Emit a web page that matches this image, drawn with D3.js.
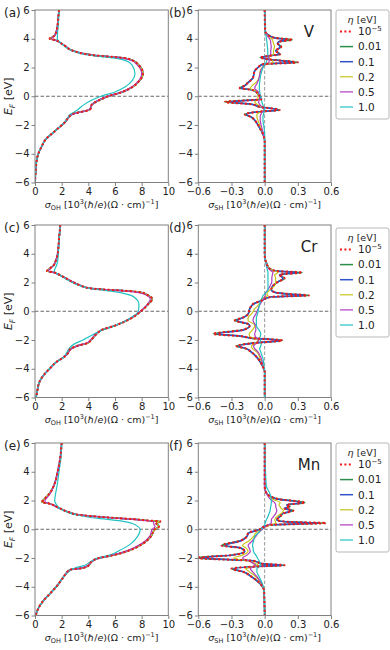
<!DOCTYPE html>
<html>
<head>
<meta charset="utf-8">
<script src="https://cdn.jsdelivr.net/npm/d3@7"></script>
<style>
  body { margin: 0; background: #fff; }
  svg { display: block; font-family: "DejaVu Sans", sans-serif; }
</style>
</head>
<body>
<div id="chart"></div>
<script>
// legend entries (eta in eV), drawn in this order in the legend
const etaLabels = ["1e-5", "0.01", "0.1", "0.2", "0.5", "1.0"];
const eTicks = [-6, -4, -2, 0, 2, 4, 6];
const ohTicks = [0, 2, 4, 6, 8, 10];
const shTicks = [-0.6, -0.3, 0, 0.3, 0.6];
const elements = ["V", "Cr", "Mn"];
const panelTags = [["(a)", "(b)"], ["(c)", "(d)"], ["(e)", "(f)"]];

// ---- V : orbital Hall (a) ----
const aE = [6, 5.5, 5, 4.5, 4.2, 4.0, 3.9, 3.78, 3.5, 3.2, 2.97, 2.85, 2.73, 2.65, 2.5, 2.15, 1.57, 1.1, 0.64, 0.3, 0, -0.3, -0.6, -0.9, -1.0, -1.1, -1.25, -1.5, -1.8, -2.1, -2.5, -3, -3.5, -4, -4.5, -5, -5.5, -6];
const aSharp = [1.8, 1.75, 1.7, 1.6, 1.45, 1.1, 1.55, 1.8, 2.25, 2.75, 3.6, 4.4, 5.9, 6.75, 7.3, 7.8, 8.1, 7.85, 7.3, 6.55, 5.5, 4.75, 4.25, 4.15, 3.9, 3.4, 2.8, 2.5, 2.25, 1.9, 1.4, 0.8, 0.5, 0.25, 0.12, 0.07, 0.03, 0];
const aPurple = [1.8, 1.75, 1.7, 1.6, 1.48, 1.22, 1.55, 1.8, 2.25, 2.75, 3.6, 4.35, 5.8, 6.6, 7.2, 7.7, 8.0, 7.8, 7.25, 6.5, 5.45, 4.7, 4.25, 4.1, 3.85, 3.4, 2.8, 2.5, 2.25, 1.9, 1.4, 0.8, 0.5, 0.25, 0.12, 0.07, 0.03, 0];
const aCyan = [1.8, 1.78, 1.75, 1.7, 1.68, 1.68, 1.72, 1.85, 2.2, 2.7, 3.45, 4.1, 5.2, 6.0, 6.75, 7.3, 7.5, 7.3, 6.75, 6.0, 4.95, 4.2, 3.65, 3.25, 3.1, 2.95, 2.65, 2.45, 2.2, 1.9, 1.4, 0.8, 0.5, 0.25, 0.12, 0.07, 0.03, 0];

// ---- V : spin Hall (b) ----
const bE = [6, 4.55, 4.2, 4.05, 3.93, 3.8, 3.67, 3.44, 3.16, 2.93, 2.8, 2.7, 2.55, 2.35, 2.23, 2.0, 1.77, 1.3, 0.95, 0.75, 0.56, 0.45, 0.37, 0.14, -0.2, -0.4, -0.56, -0.74, -0.95, -1.07, -1.26, -1.45, -1.67, -2.2, -2.65, -3.1, -6];
const bSharp = [0, 0.005, 0.045, 0.1, 0.25, 0.13, 0.12, 0.15, 0.1, 0.14, 0.03, -0.04, 0.05, 0.3, -0.02, -0.06, -0.09, -0.105, -0.15, -0.18, -0.225, -0.12, -0.09, -0.06, -0.03, -0.36, -0.12, -0.045, 0.135, -0.045, -0.18, -0.12, -0.09, -0.045, -0.015, 0, 0];
const bBlue = [0, 0.005, 0.045, 0.095, 0.2, 0.13, 0.115, 0.14, 0.1, 0.13, 0.035, -0.03, 0.05, 0.26, -0.01, -0.06, -0.09, -0.105, -0.15, -0.175, -0.21, -0.12, -0.09, -0.06, -0.035, -0.31, -0.12, -0.045, 0.12, -0.045, -0.165, -0.12, -0.09, -0.045, -0.015, 0, 0];
const bYellow = [0, 0.005, 0.03, 0.055, 0.07, 0.075, 0.08, 0.09, 0.08, 0.08, 0.05, 0.04, 0.06, 0.08, 0.02, -0.02, -0.04, -0.05, -0.08, -0.11, -0.13, -0.11, -0.08, -0.06, -0.06, -0.09, -0.07, -0.03, 0.0, -0.03, -0.07, -0.07, -0.06, -0.035, -0.01, 0, 0];
const bPurple = [0, 0.005, 0.025, 0.04, 0.05, 0.055, 0.055, 0.06, 0.055, 0.055, 0.04, 0.035, 0.04, 0.04, 0.01, -0.02, -0.035, -0.05, -0.065, -0.08, -0.09, -0.08, -0.065, -0.05, -0.045, -0.055, -0.045, -0.025, -0.005, -0.02, -0.035, -0.04, -0.04, -0.025, -0.01, 0, 0];
const bCyan = [0, 0.005, 0.012, 0.015, 0.018, 0.02, 0.022, 0.025, 0.028, 0.028, 0.025, 0.022, 0.02, 0.015, 0.0, -0.015, -0.025, -0.04, -0.045, -0.048, -0.048, -0.047, -0.046, -0.04, -0.03, -0.025, -0.018, -0.01, 0.0, -0.005, -0.01, -0.015, -0.015, -0.005, 0, 0, 0];

// ---- Cr : orbital Hall (c) ----
const cE = [6, 5, 4, 3.5, 3.2, 3.0, 2.8, 2.7, 2.5, 2.2, 2.0, 1.8, 1.6, 1.5, 1.4, 1.3, 1.1, 0.85, 0.5, 0, -0.5, -1.0, -1.3, -1.5, -1.8, -2.0, -2.2, -2.4, -2.6, -3.0, -3.3, -3.5, -4.0, -4.5, -5, -5.5, -6];
const cSharp = [1.9, 1.8, 1.7, 1.55, 1.4, 1.15, 0.9, 1.4, 1.9, 2.5, 2.9, 3.4, 4.1, 5.4, 7.1, 8.0, 8.5, 8.8, 8.5, 7.95, 7.2, 6.0, 5.0, 4.7, 4.4, 4.2, 4.0, 3.2, 2.7, 2.4, 2.0, 1.65, 1.1, 0.6, 0.3, 0.18, 0.08];
const cPurple = [1.9, 1.8, 1.7, 1.55, 1.4, 1.2, 1.0, 1.4, 1.9, 2.5, 2.9, 3.4, 4.1, 5.3, 6.9, 7.8, 8.4, 8.65, 8.45, 7.9, 7.15, 6.0, 5.0, 4.65, 4.35, 4.15, 3.9, 3.2, 2.75, 2.4, 2.0, 1.65, 1.1, 0.6, 0.3, 0.18, 0.08];
const cCyan = [1.9, 1.82, 1.75, 1.7, 1.62, 1.52, 1.45, 1.5, 1.85, 2.4, 2.8, 3.3, 4.0, 4.8, 5.7, 6.4, 7.2, 7.6, 7.8, 7.75, 7.1, 6.0, 5.1, 4.6, 4.0, 3.6, 3.1, 2.75, 2.55, 2.3, 2.0, 1.65, 1.1, 0.6, 0.3, 0.18, 0.08];

// ---- Cr : spin Hall (d) ----
const dE = [6, 4.0, 3.6, 3.4, 3.0, 2.8, 2.7, 2.54, 2.28, 2.05, 1.77, 1.5, 1.3, 1.2, 1.1, 1.0, 0.74, 0.5, 0.16, -0.2, -0.45, -0.65, -0.88, -1.0, -1.3, -1.57, -1.75, -1.87, -2.03, -2.2, -2.42, -2.6, -2.84, -3.3, -3.88, -4.2, -6];
const dSharp = [0, 0, 0.005, 0.015, 0.04, 0.1, 0.34, 0.135, 0.18, 0.12, 0.075, 0.06, 0.1, 0.22, 0.4, 0.06, -0.03, -0.105, -0.135, -0.15, -0.2, -0.27, -0.15, -0.135, -0.2, -0.465, -0.2, -0.12, 0.16, -0.08, -0.255, -0.17, -0.12, -0.06, -0.015, 0, 0];
const dBlue = [0, 0, 0.005, 0.015, 0.04, 0.1, 0.3, 0.135, 0.165, 0.12, 0.075, 0.06, 0.095, 0.2, 0.37, 0.06, -0.03, -0.1, -0.135, -0.15, -0.195, -0.25, -0.15, -0.135, -0.19, -0.43, -0.2, -0.12, 0.14, -0.08, -0.235, -0.165, -0.12, -0.06, -0.015, 0, 0];
const dYellow = [0, 0, 0.005, 0.015, 0.04, 0.09, 0.12, 0.09, 0.1, 0.1, 0.09, 0.05, 0.025, 0.02, 0.03, 0.0, -0.03, -0.05, -0.09, -0.12, -0.15, -0.15, -0.1, -0.09, -0.11, -0.14, -0.135, -0.1, -0.06, -0.08, -0.12, -0.11, -0.07, -0.04, -0.01, 0, 0];
const dPurple = [0, 0, 0.003, 0.01, 0.03, 0.06, 0.075, 0.07, 0.065, 0.065, 0.05, 0.03, 0.01, 0.005, 0.005, 0.0, -0.02, -0.04, -0.06, -0.08, -0.1, -0.105, -0.09, -0.08, -0.08, -0.09, -0.085, -0.07, -0.055, -0.07, -0.1, -0.09, -0.06, -0.03, -0.01, 0, 0];
const dCyan = [0, 0, 0.003, 0.01, 0.02, 0.028, 0.03, 0.03, 0.03, 0.03, 0.03, 0.03, 0.01, 0.0, -0.015, -0.02, -0.035, -0.045, -0.055, -0.065, -0.075, -0.075, -0.075, -0.075, -0.05, -0.035, -0.04, -0.045, -0.04, -0.03, -0.035, -0.045, -0.035, -0.015, -0.005, 0, 0];

// ---- Mn : orbital Hall (e) ----
const eE = [6, 5, 4, 3, 2.5, 2.2, 2.0, 1.89, 1.8, 1.5, 1.2, 1.0, 0.8, 0.7, 0.6, 0.55, 0.4, 0.2, 0, -0.5, -1.0, -1.5, -1.8, -2.0, -2.3, -2.5, -2.7, -2.8, -2.9, -3.0, -3.5, -4.0, -4.5, -5, -5.5, -6];
const eSharp = [2.0, 1.9, 1.7, 1.4, 1.1, 0.8, 0.6, 0.5, 1.0, 1.75, 2.5, 3.3, 5.8, 7.4, 8.6, 9.4, 9.1, 9.3, 9.0, 8.7, 8.1, 7.0, 5.9, 4.8, 4.2, 4.05, 3.6, 2.7, 2.5, 2.4, 2.0, 1.6, 1.1, 0.6, 0.25, 0.05];
const ePurple = [2.0, 1.9, 1.7, 1.4, 1.15, 0.9, 0.75, 0.75, 1.05, 1.75, 2.5, 3.25, 5.6, 7.2, 8.3, 8.9, 8.9, 9.0, 8.8, 8.6, 8.0, 6.9, 5.8, 4.8, 4.2, 4.0, 3.5, 2.75, 2.5, 2.4, 2.0, 1.6, 1.1, 0.6, 0.25, 0.05];
const eCyan = [2.0, 1.95, 1.8, 1.65, 1.55, 1.5, 1.48, 1.5, 1.55, 1.8, 2.4, 3.1, 4.3, 5.3, 6.2, 6.6, 7.3, 7.7, 7.9, 7.7, 7.2, 6.3, 5.6, 4.7, 4.1, 3.75, 3.0, 2.75, 2.6, 2.45, 2.0, 1.6, 1.1, 0.6, 0.25, 0.05];

// ---- Mn : spin Hall (f) ----
const fE = [6, 3.0, 2.6, 2.3, 2.1, 1.85, 1.7, 1.57, 1.45, 1.3, 1.1, 0.88, 0.65, 0.52, 0.43, 0.3, 0.2, 0, -0.27, -0.5, -0.8, -1.13, -1.3, -1.55, -1.8, -2.0, -2.2, -2.4, -2.5, -2.6, -2.75, -2.95, -3.3, -3.8, -4.3, -6];
const fSharp = [0, 0.0, 0.01, 0.05, 0.12, 0.365, 0.2, 0.23, 0.18, 0.26, 0.17, 0.14, 0.11, 0.2, 0.555, 0.05, 0.0, -0.04, -0.15, -0.16, -0.22, -0.39, -0.22, -0.18, -0.3, -0.62, -0.1, -0.02, 0.18, -0.1, -0.3, -0.2, -0.12, -0.04, -0.005, 0];
const fBlue = [0, 0, 0.01, 0.05, 0.11, 0.33, 0.2, 0.22, 0.18, 0.24, 0.165, 0.135, 0.11, 0.19, 0.5, 0.05, 0.0, -0.04, -0.145, -0.16, -0.215, -0.36, -0.215, -0.18, -0.29, -0.57, -0.1, -0.02, 0.16, -0.1, -0.28, -0.195, -0.12, -0.04, -0.005, 0];
const fYellow = [0, 0.0, 0.01, 0.04, 0.07, 0.14, 0.13, 0.14, 0.15, 0.17, 0.15, 0.11, 0.09, 0.1, 0.1, 0.05, 0.02, -0.03, -0.08, -0.1, -0.14, -0.2, -0.17, -0.15, -0.2, -0.28, -0.15, -0.08, -0.06, -0.1, -0.17, -0.14, -0.08, -0.03, -0.005, 0];
const fPurple = [0, 0, 0.01, 0.03, 0.05, 0.09, 0.1, 0.1, 0.105, 0.11, 0.1, 0.08, 0.06, 0.06, 0.06, 0.03, 0.01, -0.02, -0.06, -0.08, -0.11, -0.15, -0.14, -0.13, -0.16, -0.2, -0.14, -0.1, -0.08, -0.1, -0.13, -0.11, -0.07, -0.025, -0.005, 0];
const fCyan = [0, 0.015, 0.04, 0.055, 0.06, 0.06, 0.058, 0.055, 0.052, 0.05, 0.04, 0.03, 0.015, 0.008, 0.005, 0.0, -0.01, -0.03, -0.06, -0.09, -0.1, -0.11, -0.105, -0.1, -0.08, -0.065, -0.05, -0.04, -0.04, -0.05, -0.07, -0.07, -0.05, -0.02, -0.005, 0];

// series order follows etaLabels; the small-eta curves lie on top of each other
const rows = [
  { E1: aE, oh: [aSharp, aSharp, aSharp, aSharp, aPurple, aCyan], E2: bE, sh: [bSharp, bSharp, bBlue, bYellow, bPurple, bCyan] },
  { E1: cE, oh: [cSharp, cSharp, cSharp, cSharp, cPurple, cCyan], E2: dE, sh: [dSharp, dSharp, dBlue, dYellow, dPurple, dCyan] },
  { E1: eE, oh: [eSharp, eSharp, eSharp, eSharp, ePurple, eCyan], E2: fE, sh: [fSharp, fSharp, fBlue, fYellow, fPurple, fCyan] },
];

const width = 390, height = 650;
const rowTop = [10, 225, 443];
const plotH = 172.5;
const leftRange = [35, 168.3];
const rightRange = [198.3, 331];
const colors = ["#f01818", "#2b8f4a", "#2f52c8", "#c8c41e", "#b03cbf", "#22c2c2"];
const lineW = [2.1, 1.5, 1.5, 1.2, 1.2, 1.2];
const dots = "2,2.4";
// the solid curves go down in legend order, the dotted one last on top
const drawOrder = [1, 2, 3, 4, 5, 0];
const frameColor = "#808080";
const textColor = "#222";

const svg = d3.select("#chart").append("svg")
  .attr("width", width)
  .attr("height", height);

let clipCount = 0;

function drawPanel(top, xRange, xDomain, xTicks, xFormat, E, series, isSpin) {
  const x = d3.scaleLinear().domain(xDomain).range(xRange);
  const y = d3.scaleLinear().domain([-6, 6]).range([top + plotH, top]);
  const clipId = "clip" + clipCount++;

  svg.append("clipPath").attr("id", clipId)
    .append("rect")
    .attr("x", xRange[0]).attr("y", top)
    .attr("width", xRange[1] - xRange[0]).attr("height", plotH);

  const g = svg.append("g").attr("clip-path", `url(#${clipId})`);

  // E_F = 0 reference line
  g.append("line")
    .attr("x1", xRange[0]).attr("x2", xRange[1])
    .attr("y1", y(0)).attr("y2", y(0))
    .attr("stroke", "#444").attr("stroke-width", 0.8)
    .attr("stroke-dasharray", "3.5,2");

  if (isSpin) {
    g.append("line")
      .attr("x1", x(0)).attr("x2", x(0))
      .attr("y1", top).attr("y2", top + plotH)
      .attr("stroke", "#999").attr("stroke-width", 1)
      .attr("stroke-dasharray", "3.5,2");
  }

  const line = d3.line()
    .x((d) => x(d[1]))
    .y((d) => y(d[0]))
    .curve(d3.curveMonotoneY);

  drawOrder.forEach((i) => {
    const pts = E.map((e, k) => [e, series[i][k]]);
    const p = g.append("path")
      .attr("d", line(pts))
      .attr("fill", "none")
      .attr("stroke", colors[i])
      .attr("stroke-width", lineW[i])
      .attr("stroke-linejoin", "round");
    if (i === 0) p.attr("stroke-dasharray", dots);
  });

  const xAxis = d3.axisBottom(x).tickValues(xTicks).tickFormat(xFormat)
    .tickSize(3.5).tickPadding(2);
  const yAxis = d3.axisLeft(y).tickValues(eTicks).tickFormat(d3.format("d"))
    .tickSize(3.5).tickPadding(2);

  const gx = svg.append("g")
    .attr("transform", `translate(0,${top + plotH})`)
    .call(xAxis);
  const gy = svg.append("g")
    .attr("transform", `translate(${xRange[0]},0)`)
    .call(yAxis);

  [gx, gy].forEach((a) => {
    a.attr("font-family", "DejaVu Sans").attr("font-size", 10);
    a.select(".domain").remove();
    a.selectAll(".tick line").attr("stroke", frameColor);
    a.selectAll(".tick text").attr("fill", textColor);
  });

  svg.append("rect")
    .attr("x", xRange[0]).attr("y", top)
    .attr("width", xRange[1] - xRange[0]).attr("height", plotH)
    .attr("fill", "none").attr("stroke", frameColor).attr("stroke-width", 1);
}

function xLabel(cx, baseline, sub) {
  const t = svg.append("text")
    .attr("x", cx).attr("y", baseline)
    .attr("text-anchor", "middle")
    .attr("font-size", 9.5)
    .attr("fill", textColor);
  t.append("tspan").attr("font-style", "italic").text("σ");
  t.append("tspan").attr("font-size", 6.5).attr("dy", 2).text(sub);
  t.append("tspan").attr("dy", -2).text(" [10");
  t.append("tspan").attr("font-size", 6.5).attr("dy", -4).text("3");
  t.append("tspan").attr("dy", 4).text("(");
  t.append("tspan").attr("font-style", "italic").text("ħ");
  t.append("tspan").text("/");
  t.append("tspan").attr("font-style", "italic").text("e");
  t.append("tspan").text(")(Ω · cm)");
  t.append("tspan").attr("font-size", 6.5).attr("dy", -4).text("−1");
  t.append("tspan").attr("dy", 4).text("]");
}

function yLabel(cy) {
  const t = svg.append("text")
    .attr("transform", `translate(12,${cy}) rotate(-90)`)
    .attr("text-anchor", "middle")
    .attr("font-size", 11)
    .attr("fill", textColor);
  t.append("tspan").attr("font-style", "italic").text("E");
  t.append("tspan").attr("font-style", "italic").attr("font-size", 7.5).attr("dy", 2.5).text("F");
  t.append("tspan").attr("dy", -2.5).text(" [eV]");
}

function legend(top) {
  const lg = svg.append("g").attr("transform", `translate(336,${top})`);
  lg.append("rect")
    .attr("width", 53).attr("height", 109)
    .attr("rx", 2)
    .attr("fill", "#fff").attr("stroke", "#b8b8b8").attr("stroke-width", 1);

  const title = lg.append("text")
    .attr("x", 26).attr("y", 12.5)
    .attr("text-anchor", "middle")
    .attr("font-size", 9.5)
    .attr("fill", textColor);
  title.append("tspan").attr("font-style", "italic").text("η");
  title.append("tspan").text(" [eV]");

  etaLabels.forEach((lab, i) => {
    const cy = 21.5 + i * 15.1;
    const ln = lg.append("line")
      .attr("x1", 4).attr("x2", 17)
      .attr("y1", cy).attr("y2", cy)
      .attr("stroke", colors[i]).attr("stroke-width", lineW[i]);
    if (i === 0) ln.attr("stroke-dasharray", dots);
    const t = lg.append("text")
      .attr("x", 22).attr("y", cy + 3.8)
      .attr("font-size", 10.5)
      .attr("fill", textColor);
    if (lab === "1e-5") {
      t.append("tspan").text("10");
      t.append("tspan").attr("font-size", 7).attr("dy", -4.5).text("−5");
    } else {
      t.text(lab);
    }
  });
}

rows.forEach((row, r) => {
  const top = rowTop[r];
  drawPanel(top, leftRange, [0, 10], ohTicks, d3.format("d"), row.E1, row.oh, false);
  drawPanel(top, rightRange, [-0.6, 0.6], shTicks, d3.format(".1f"), row.E2, row.sh, true);

  xLabel((leftRange[0] + leftRange[1]) / 2, top + plotH + 25, "OH");
  xLabel((rightRange[0] + rightRange[1]) / 2, top + plotH + 25, "SH");
  yLabel(top + plotH / 2);

  svg.append("text").attr("x", 4).attr("y", top + 7)
    .attr("font-size", 12).attr("fill", textColor).text(panelTags[r][0]);
  svg.append("text").attr("x", 169).attr("y", top + 7)
    .attr("font-size", 12).attr("fill", textColor).text(panelTags[r][1]);

  svg.append("text")
    .attr("x", 309).attr("y", top + 27)
    .attr("text-anchor", "middle")
    .attr("font-size", 15)
    .attr("fill", textColor)
    .text(elements[r]);

  legend(top + (r === 1 ? 3 : 0));
});
</script>
</body>
</html>
